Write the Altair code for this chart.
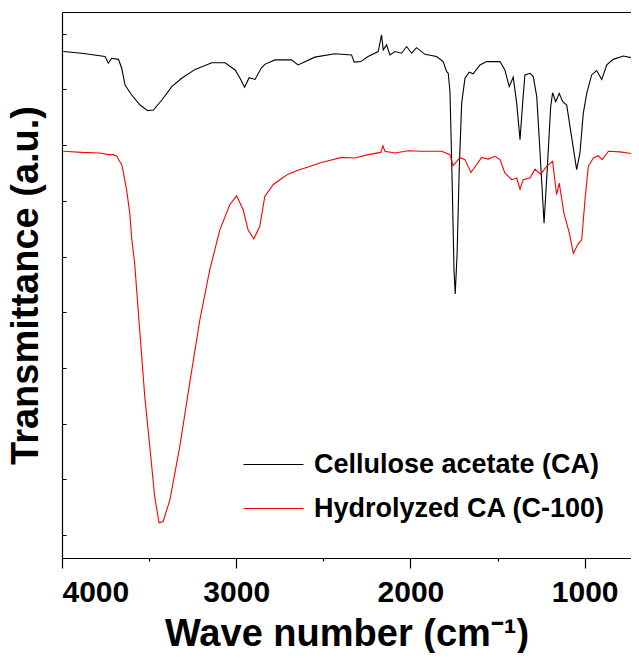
import altair as alt
import pandas as pd

# Cellulose acetate (CA) spectrum: wavenumber (cm-1) and transmittance (a.u.)
ca_wn = [3992, 3887, 3753, 3734, 3715, 3676, 3657, 3638, 3600, 3552, 3508, 3475,
         3427, 3370, 3313, 3236, 3140, 3064, 3006, 2978, 2952, 2926, 2892, 2857,
         2836, 2778, 2683, 2645, 2549, 2434, 2338, 2323, 2285, 2243, 2185, 2166,
         2156, 2137, 2118, 2089, 2051, 2022, 1993, 1965, 1917, 1850, 1812, 1792,
         1783, 1773, 1769, 1760, 1750, 1743, 1732, 1720, 1706, 1687, 1663, 1640,
         1601, 1563, 1486, 1458, 1433, 1410, 1390, 1371, 1356, 1343, 1314, 1295,
         1275, 1256, 1233, 1215, 1195, 1184, 1166, 1146, 1126, 1103, 1075, 1046,
         1027, 1008, 988, 960, 931, 902, 873, 836, 778, 688]
ca_t = [86.8, 86.5, 85.9, 84.7, 85.6, 85.4, 83.8, 80.8, 79.0, 77.2, 76.2, 76.3,
        78.1, 80.5, 82.0, 83.6, 84.8, 84.8, 83.5, 82.0, 80.4, 82.1, 81.8, 83.8,
        84.5, 85.3, 85.3, 84.4, 85.8, 86.4, 86.2, 84.9, 85.0, 85.9, 86.8, 89.8,
        87.1, 88.0, 86.2, 86.8, 86.5, 87.7, 86.5, 87.5, 86.3, 85.9, 85.0, 83.2,
        82.9, 79.6, 74.5, 62.6, 47.6, 43.3, 50.6, 65.6, 77.5, 82.0, 83.1, 82.8,
        84.4, 85.0, 85.0, 83.5, 80.5, 82.2, 77.5, 71.0, 77.5, 82.6, 82.9, 82.3,
        78.7, 68.6, 56.0, 65.6, 76.9, 79.4, 77.8, 79.3, 77.8, 77.2, 71.5, 65.6,
        68.6, 75.7, 79.3, 82.6, 83.4, 81.8, 84.4, 85.4, 86.0, 85.4]

# Hydrolyzed CA (C-100) spectrum
hc_wn = [3992, 3887, 3783, 3734, 3707, 3686, 3669, 3657, 3640, 3628, 3611, 3600,
         3583, 3554, 3525, 3496, 3468, 3443, 3420, 3381, 3324, 3267, 3209, 3152,
         3094, 3037, 2998, 2960, 2932, 2899, 2865, 2836, 2788, 2731, 2702, 2639,
         2606, 2510, 2395, 2319, 2243, 2170, 2158, 2147, 2089, 2013, 1936, 1821,
         1773, 1755, 1716, 1687, 1653, 1620, 1591, 1554, 1515, 1486, 1458, 1419,
         1390, 1371, 1353, 1314, 1285, 1253, 1218, 1184, 1161, 1146, 1119, 1088,
         1065, 1037, 1017, 998, 979, 950, 922, 899, 864, 797, 688]
hc_t = [68.9, 68.7, 68.6, 68.3, 68.3, 68.0, 67.1, 66.5, 63.8, 61.7, 57.8, 53.3,
        48.8, 36.8, 24.9, 15.9, 6.9, 2.2, 2.4, 6.3, 15.9, 27.3, 38.6, 47.6,
        54.8, 59.3, 60.9, 58.4, 54.8, 53.2, 55.4, 60.8, 62.9, 64.2, 64.8, 65.6,
        65.9, 66.9, 67.8, 67.7, 68.3, 68.7, 69.9, 68.9, 68.6, 69.0, 68.9, 68.9,
        68.3, 66.3, 67.8, 67.4, 65.1, 66.5, 67.8, 67.5, 68.0, 67.4, 65.0, 63.8,
        64.1, 62.1, 63.8, 64.1, 65.7, 64.8, 66.2, 67.1, 61.1, 63.2, 57.8, 54.2,
        50.6, 52.3, 53.0, 60.2, 66.2, 67.7, 68.1, 67.4, 68.9, 68.8, 68.3]

series_names = ["Cellulose acetate (CA)", "Hydrolyzed CA (C-100)"]
series_colors = ["#000000", "#ff0000"]
x_ticks = [4000, 3500, 3000, 2500, 2000, 1500, 1000]
y_ticks = [0, 10, 20, 30, 40, 50, 60, 70, 80, 90]

df = pd.concat([
    pd.DataFrame({"wn": ca_wn, "t": ca_t, "series": series_names[0]}),
    pd.DataFrame({"wn": hc_wn, "t": hc_t, "series": series_names[1]}),
], ignore_index=True)

FONT = "Liberation Sans"
x_scale = alt.Scale(domain=[4000, 734], nice=False, zero=False)
y_scale = alt.Scale(domain=[-4.1, 93.9], nice=False, zero=False)

lines = alt.Chart(df).mark_line(strokeWidth=1.1, clip=True).encode(
    x=alt.X("wn:Q", scale=x_scale,
            axis=alt.Axis(values=x_ticks, format="d",
                          labelExpr="datum.value % 1000 === 0 ? datum.label : ''",
                          tickSize={"condition": {"test": "datum.value % 1000 === 0", "value": 10}, "value": 3},
                          title="Wave number (cm⁻¹)", grid=False,
                          labelFont=FONT, labelFontWeight="bold", labelFontSize=30,
                          labelColor="black", labelPadding=9,
                          titleFont=FONT, titleFontWeight="bold", titleFontSize=38,
                          titleColor="black", titlePadding=8,
                          domainColor="black", domainWidth=1.2,
                          tickColor="black", tickWidth=1.2)),
    y=alt.Y("t:Q", scale=y_scale,
            axis=alt.Axis(title="Transmittance (a.u.)", labels=False, ticks=False,
                          grid=False, domainColor="black", domainWidth=1.2,
                          titleFont=FONT, titleFontWeight="bold", titleFontSize=38,
                          titleColor="black", titlePadding=17)),
    color=alt.Color("series:N",
                    scale=alt.Scale(domain=series_names, range=series_colors),
                    legend=alt.Legend(title=None, orient="none", legendX=181, legendY=422,
                                      symbolType="stroke", symbolSize=3600,
                                      symbolStrokeWidth=1,
                                      labelFont=FONT, labelFontWeight="bold",
                                      labelFontSize=27, labelColor="black",
                                      labelLimit=0, labelOffset=10, rowPadding=-12)),
)

frame = alt.Chart(df).mark_line(opacity=0).encode(
    x=alt.X("wn:Q", scale=x_scale,
            axis=alt.Axis(orient="top", labels=False, ticks=False, title=None,
                          grid=False, domainColor="black", domainWidth=1.2)),
    y=alt.Y("t:Q", scale=y_scale,
            axis=alt.Axis(orient="left", values=y_ticks, labels=False, title=None,
                          domain=False, grid=False, offset=-4, tickSize=4,
                          tickColor="black", tickWidth=1)),
)

chart = alt.layer(lines, frame).resolve_axis(x="independent", y="independent").properties(
    width=569, height=546,
    autosize=alt.AutoSizeParams(type="none"),
    padding={"left": 54, "top": 4, "right": 0, "bottom": 95},
).configure_view(stroke=None)

chart.save("out.html", embed_options={"renderer": "svg", "actions": False})
